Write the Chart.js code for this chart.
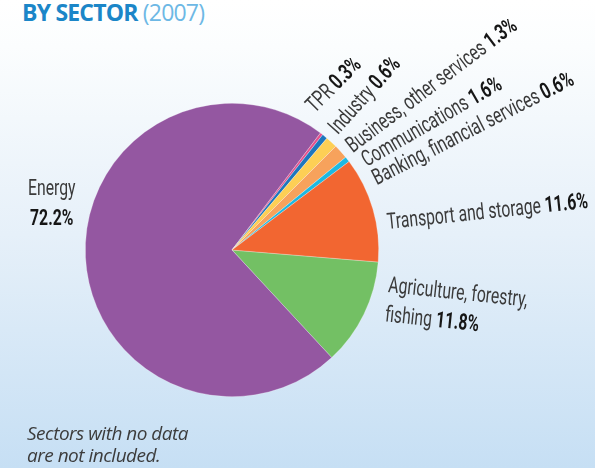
<!DOCTYPE html>
<html>
<head>
<meta charset="utf-8">
<script src="https://cdn.jsdelivr.net/npm/chart.js@4.4.1/dist/chart.umd.min.js"></script>
<style>
  html, body { margin: 0; padding: 0; }
  body {
    width: 595px; height: 468px; overflow: hidden; position: relative;
    background: linear-gradient(to bottom, #ffffff 0%, #fbfdfe 10%, #e6f0f9 50%, #c6dff4 100%);
  }
  #title {
    position: absolute; left: 22px; top: -4px;
    font-family: "Open Sans", sans-serif; font-size: 23px; letter-spacing: -0.8px;
    color: #1b86c8; white-space: nowrap;
  }
  #title b { font-weight: 700; }
  #title span { color: #6db8e5; font-weight: 400; }
  #note {
    position: absolute; left: 27px; top: 422px;
    font-family: "Open Sans", sans-serif; font-style: italic; font-size: 19px;
    line-height: 22px; letter-spacing: -0.5px; color: #3c3c3c;
  }
  canvas { position: absolute; left: 0; top: 0; }
</style>
</head>
<body>
<div id="title"><b>BY SECTOR</b> <span>(2007)</span></div>
<canvas id="myChart" width="595" height="468"></canvas>
<div id="note">Sectors with no data<br>are not included.</div>
<script>
// sectors clockwise, starting just below the 3 o'clock position
const sectors = [
  "Agriculture, forestry,\nfishing",
  "Energy",
  "TPR",
  "Industry",
  "Business, other services",
  "Communications",
  "Banking, financial services",
  "Transport and storage"
];
const shares = [11.8, 72.2, 0.3, 0.6, 1.3, 1.6, 0.6, 11.6];
const sliceColors = ["#73c064", "#9457a1", "#e5508c", "#1e76bd", "#fdcf55", "#f7a25c", "#1cb9e2", "#f26631"];

// where each label sits: polar angle (deg, 0 = east), gap beyond rim, text rotation
const labelPlace = [
  { angle: 15.1, gap: 14.6, rot: 6, align: "left" },
  { angle: 196.9, gap: 41.7, rot: 0, align: "center", valueBreak: true },
  { angle: -58.8, gap: 13, rot: -45, align: "left" },
  { angle: -47.3, gap: 9.4, rot: -48, align: "left" },
  { angle: -38.7, gap: 8, rot: -37, align: "left" },
  { angle: -31.6, gap: 11.5, rot: -30, align: "left" },
  { angle: -24.1, gap: 12, rot: -27, align: "left" },
  { angle: -7.7, gap: 10.4, rot: -6, align: "left" }
];

const labelFont = "22.5px Roboto, sans-serif";
const valueFont = "bold 22.5px Roboto, sans-serif";

const sliceLabels = {
  id: "sliceLabels",
  afterDatasetsDraw(chart) {
    const ctx = chart.ctx;
    const arcs = chart.getDatasetMeta(0).data;
    arcs.forEach((arc, i) => {
      const p = labelPlace[i];
      const a = p.angle * Math.PI / 180;
      const r = arc.outerRadius + p.gap;
      const x = arc.x + r * Math.cos(a);
      const y = arc.y + r * Math.sin(a);
      const value = shares[i].toFixed(1) + "%";
      const lines = sectors[i].split("\n").map((t) => [t, ""]);
      if (p.valueBreak) lines.push(["", value]);
      else lines[lines.length - 1][1] = value;

      ctx.save();
      ctx.translate(x, y);
      ctx.rotate(p.rot * Math.PI / 180);
      ctx.scale(0.7, 1);
      ctx.textBaseline = "alphabetic";
      ctx.textAlign = "left";
      lines.forEach((ln, k) => {
        const [txt, val] = ln;
        const gapTxt = txt && val ? txt + " " : txt;
        ctx.font = labelFont;
        const w1 = ctx.measureText(gapTxt).width;
        ctx.font = valueFont;
        const w2 = val ? ctx.measureText(val).width : 0;
        let x0 = 0;
        if (p.align === "center") x0 = -(w1 + w2) / 2;
        const y0 = k * 29.5;
        ctx.font = labelFont;
        ctx.fillStyle = "#3a3a3a";
        ctx.fillText(gapTxt, x0, y0);
        if (val) {
          ctx.font = valueFont;
          ctx.fillStyle = "#161616";
          ctx.fillText(val, x0 + w1, y0);
        }
      });
      ctx.restore();
    });
  }
};

const config = {
  type: "pie",
  data: {
    labels: sectors,
    datasets: [{
      data: shares,
      backgroundColor: sliceColors,
      borderColor: "rgba(255,255,255,0.45)",
      borderWidth: 0.6
    }]
  },
  options: {
    responsive: false,
    animation: false,
    rotation: 94.7,
    layout: { padding: { left: 85, top: 103, right: 216, bottom: 71 } },
    plugins: {
      legend: { display: false },
      tooltip: { enabled: false }
    }
  },
  plugins: [sliceLabels]
};

window.onload = () => {
  new Chart(document.getElementById("myChart"), config);
};
</script>
</body>
</html>
